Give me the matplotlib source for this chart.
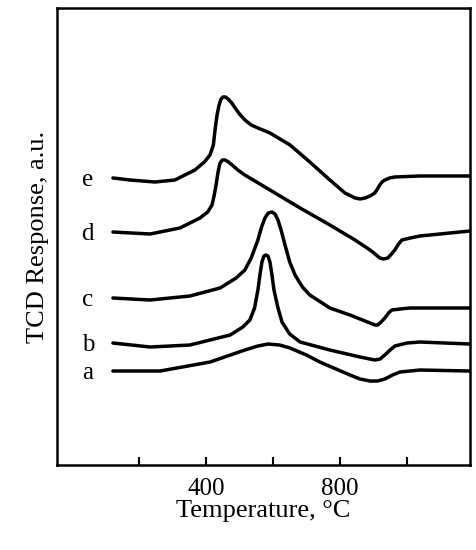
import matplotlib
matplotlib.use("Agg")
import matplotlib.pyplot as plt

plt.rcParams['font.family'] = ['Liberation Serif', 'DejaVu Serif']

# y values in "height" units (550 - pixel row)
e_T = [122,173,248,307,367,395,412,422,427,433,439,445,451,458,466,477,487,500,516,535,555,591,651,710,770,815,845,860,875,890,904,912,919,926,934,948,964,1039,1188]
e_y = [178,180,182,180,170,162,155,145,130,115,105,99,97,97,99,103,108,114,120,125,128,133,145,162,180,193,198,199,198,196,193,189,185,182,180,178,177,176,176]
d_T = [122,233,322,382,405,418,424,430,436,442,449,457,467,478,495,516,591,681,770,845,890,905,919,931,943,954,964,975,985,1010,1039,1099,1188]
d_y = [232,234,228,218,212,205,196,185,172,163,160,160,162,165,170,175,190,208,225,240,250,254,258,259,258,254,250,244,240,238,236,234,231]
c_T = [122,233,352,442,490,516,535,555,566,576,586,597,606,615,625,636,650,666,688,710,770,830,890,905,913,923,934,945,955,980,1009,1188]
c_y = [298,300,296,288,278,270,258,240,227,218,213,212,214,220,231,245,262,275,287,295,308,315,323,325,325,322,318,313,310,309,308,308]
b_T = [122,233,352,472,510,531,545,555,561,567,573,579,585,591,597,603,615,627,650,681,770,860,904,920,934,950,964,1000,1039,1188]
b_y = [343,347,345,335,327,320,308,290,275,262,256,255,256,262,275,290,308,322,334,342,350,357,360,359,355,350,346,343,342,344]
a_T = [122,263,412,516,555,585,620,651,700,740,830,860,890,912,934,957,979,1039,1188]
a_y = [371,371,362,350,346,344,345,348,355,362,375,379,381,381,379,375,372,370,371]
curves = {'e': (e_T, e_y), 'd': (d_T, d_y), 'c': (c_T, c_y), 'b': (b_T, b_y), 'a': (a_T, a_y)}
xticks = [200, 400, 600, 800, 1000]
xticklabels = ['', '400', '', '800', '']

fig = plt.figure(figsize=(4.77, 5.5), dpi=100)
ax = fig.add_axes([0.1195, 0.1545, 0.8655, 0.831])
for name, (T, y) in curves.items():
    ax.plot(T, [550 - v for v in y], color='black', lw=2.5,
            solid_capstyle='round', solid_joinstyle='round')
    ax.text(47, 550 - y[0] - 2, name, fontsize=18, ha='center', va='center')
ax.set_xlim(-45, 1188)
ax.set_ylim(85, 542)
ax.set_xticks(xticks)
ax.set_xticklabels(xticklabels, fontsize=18)
ax.set_yticks([])
ax.tick_params(axis='x', direction='in', length=6, width=1.5, pad=9)
for s in ax.spines.values():
    s.set_linewidth(1.8)
ax.set_xlabel('Temperature, °C', fontsize=19, labelpad=0)
ax.set_ylabel('TCD Response, a.u.', fontsize=19, labelpad=6)
fig.savefig('out.png', dpi=100)
